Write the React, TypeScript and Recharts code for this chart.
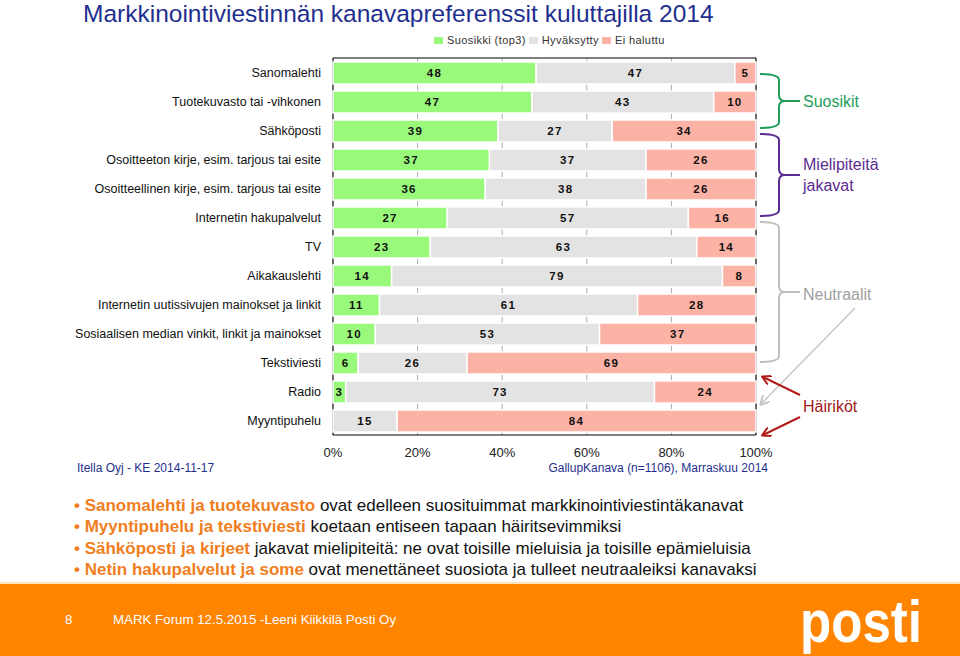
import { BarChart, Bar, XAxis, YAxis, CartesianGrid, LabelList, ReferenceArea } from 'recharts';

const categories = [
    'Sanomalehti',
    'Tuotekuvasto tai -vihkonen',
    'Sähköposti',
    'Osoitteeton kirje, esim. tarjous tai esite',
    'Osoitteellinen kirje, esim. tarjous tai esite',
    'Internetin hakupalvelut',
    'TV',
    'Aikakauslehti',
    'Internetin uutissivujen mainokset ja linkit',
    'Sosiaalisen median vinkit, linkit ja mainokset',
    'Tekstiviesti',
    'Radio',
    'Myyntipuhelu',
];
const suosikki = [48, 47, 39, 37, 36, 27, 23, 14, 11, 10, 6, 3, 0];
const hyvaksytty = [47, 43, 27, 37, 38, 57, 63, 79, 61, 53, 26, 73, 15];
const eiHaluttu = [5, 10, 34, 26, 26, 16, 14, 8, 28, 37, 69, 24, 84];
const xTicks = [0, 0.2, 0.4, 0.6, 0.8, 1];

const series = [
    { key: 'suosikki', name: 'Suosikki (top3)', color: '#99F97A' },
    { key: 'hyvaksytty', name: 'Hyväksytty', color: '#E3E3E3' },
    { key: 'eiHaluttu', name: 'Ei haluttu', color: '#FCB2A5' },
];

const bullets = [
    ['Sanomalehti ja tuotekuvasto', ' ovat edelleen suosituimmat markkinointiviestintäkanavat'],
    ['Myyntipuhelu ja tekstiviesti', ' koetaan entiseen tapaan häiritsevimmiksi'],
    ['Sähköposti ja kirjeet', ' jakavat mielipiteitä: ne ovat toisille mieluisia ja toisille epämieluisia'],
    ['Netin hakupalvelut ja some', ' ovat menettäneet suosiota ja tulleet neutraaleiksi kanavaksi'],
];

const data = categories.map((name, i) => ({
    name,
    suosikki: suosikki[i],
    hyvaksytty: hyvaksytty[i],
    eiHaluttu: eiHaluttu[i],
}));

const FONT = '"Liberation Sans", Arial, sans-serif';
const BLUE = '#1F2F8F';

// curly brace: opens to the left, tip to the right
function brace(x0: number, xv: number, tip: number, top: number, bottom: number) {
    const mid = (top + bottom) / 2;
    const r = 6;
    return `M${x0} ${top} Q${xv} ${top} ${xv} ${top + r} L${xv} ${mid - r} Q${xv} ${mid} ${xv + r} ${mid} L${tip} ${mid} M${xv + r} ${mid} Q${xv} ${mid} ${xv} ${mid + r} L${xv} ${bottom - r} Q${xv} ${bottom} ${x0} ${bottom}`;
}

export default function App() {
    return (
        <div style={{ position: 'absolute', left: 0, top: 0, width: 960, height: 656, background: '#fff', fontFamily: FONT, overflow: 'hidden' }}>
            <div style={{ position: 'absolute', left: 83, top: 0, fontSize: 24.5, lineHeight: '28px', color: BLUE, whiteSpace: 'nowrap' }}>
                Markkinointiviestinnän kanavapreferenssit kuluttajilla 2014
            </div>

            <div style={{ position: 'absolute', left: 434, top: 34, display: 'flex', alignItems: 'center', fontSize: 11, color: '#333', letterSpacing: 0.4 }}>
                {series.map((s) => (
                    <div key={s.key} style={{ display: 'flex', alignItems: 'center', marginRight: 3 }}>
                        <span style={{ width: 9, height: 7, background: s.color, display: 'inline-block', marginRight: 4 }} />
                        {s.name}
                    </div>
                ))}
            </div>

            <div style={{ position: 'absolute', left: 0, top: 0 }}>
                <BarChart
                    width={960}
                    height={480}
                    data={data}
                    layout="vertical"
                    stackOffset="expand"
                    barSize={22}
                    margin={{ top: 58, right: 204, bottom: 15, left: 0 }}
                >
                    <CartesianGrid vertical horizontal={false} stroke="#ADADAD" />
                    <XAxis
                        type="number"
                        domain={[0, 1]}
                        ticks={xTicks}
                        tickFormatter={(v: number) => `${Math.round(v * 100)}%`}
                        tickLine={false}
                        axisLine={false}
                        tickMargin={7}
                        height={30}
                        tick={{ fontSize: 13, fill: '#222', fontFamily: FONT }}
                    />
                    <YAxis
                        type="category"
                        dataKey="name"
                        width={333}
                        tickLine={false}
                        axisLine={false}
                        tickMargin={6}
                        interval={0}
                        tick={{ fontSize: 12.5, fill: '#111', fontFamily: FONT }}
                    />
                    {series.map((s) => (
                        <Bar key={s.key} dataKey={s.key} name={s.name} stackId="a" fill={s.color} stroke="#fff" strokeWidth={1.5} isAnimationActive={false}>
                            <LabelList
                                dataKey={s.key}
                                position="center"
                                formatter={(v: any) => (v ? v : '')}
                                style={{ fontSize: 11.5, fontWeight: 'bold', fill: '#111', letterSpacing: 1.3, fontFamily: FONT }}
                            />
                        </Bar>
                    ))}
                    <ReferenceArea x1={0} x2={1} fill="none" stroke="#000" strokeWidth={1} />
                </BarChart>
            </div>

            <div style={{ position: 'absolute', left: 77, top: 461, fontSize: 12, color: BLUE }}>Itella Oyj - KE 2014-11-17</div>
            <div style={{ position: 'absolute', right: 192, top: 461, fontSize: 12, color: BLUE }}>
                GallupKanava (n=1106), Marraskuu 2014
            </div>

            <svg width={960} height={656} style={{ position: 'absolute', left: 0, top: 0, pointerEvents: 'none' }}>
                <defs>
                    <marker id="ahRed" markerWidth="10" markerHeight="10" refX="8" refY="5" orient="auto" markerUnits="userSpaceOnUse">
                        <path d="M0 0 L9 5 L0 10" fill="none" stroke="#B01C1C" strokeWidth={2} />
                    </marker>
                    <marker id="ahGrey" markerWidth="10" markerHeight="10" refX="8" refY="5" orient="auto" markerUnits="userSpaceOnUse">
                        <path d="M0 0 L9 5 L0 10" fill="none" stroke="#C4C4C4" strokeWidth={2} />
                    </marker>
                </defs>
                <path d={brace(760, 779, 800, 74, 128)} fill="none" stroke="#1E9E5A" strokeWidth={2} />
                <path d={brace(760, 779, 800, 134, 216)} fill="none" stroke="#5B2C91" strokeWidth={2} />
                <path d={brace(760, 779, 800, 222, 362)} fill="none" stroke="#C0C0C0" strokeWidth={2} />
                <text x={803} y={107} fontSize={16} fill="#1E9E5A" fontFamily={FONT}>Suosikit</text>
                <text x={803} y={170} fontSize={16} fill="#5B2C91" fontFamily={FONT}>Mielipiteitä</text>
                <text x={803} y={191} fontSize={16} fill="#5B2C91" fontFamily={FONT}>jakavat</text>
                <text x={803} y={300} fontSize={16} fill="#A0A0A0" fontFamily={FONT}>Neutraalit</text>
                <text x={803} y={412} fontSize={16} fill="#A01818" fontFamily={FONT}>Häiriköt</text>
                <line x1={855} y1={308} x2={761} y2={404} stroke="#C4C4C4" strokeWidth={1.5} markerEnd="url(#ahGrey)" />
                <line x1={800} y1={395} x2={763} y2={377} stroke="#B01C1C" strokeWidth={2} markerEnd="url(#ahRed)" />
                <line x1={800} y1={417} x2={763} y2={435} stroke="#B01C1C" strokeWidth={2} markerEnd="url(#ahRed)" />
            </svg>

            {bullets.map(([hi, rest], i) => (
                <div key={i} style={{ position: 'absolute', left: 74, top: 495 + i * 21.3, fontSize: 17, lineHeight: '21px', color: '#111', whiteSpace: 'nowrap' }}>
                    <span style={{ color: '#F07E1E', fontWeight: 'bold' }}>•&nbsp;{hi}</span>
                    {rest}
                </div>
            ))}

            <div style={{ position: 'absolute', left: 0, top: 582, width: 960, height: 2, background: '#FFE3BF' }} />
            <div style={{ position: 'absolute', left: 0, top: 584, width: 960, height: 72, background: '#FF8400' }}>
                <div style={{ position: 'absolute', left: 65, top: 28, fontSize: 13.3, color: '#fff' }}>8</div>
                <div style={{ position: 'absolute', left: 113, top: 28, fontSize: 13.3, color: '#fff' }}>MARK Forum 12.5.2015 -Leeni Kiikkilä Posti Oy</div>
                <svg width={160} height={72} style={{ position: 'absolute', left: 790, top: 0 }}>
                    <text x={10} y={58} fontSize={60} fontWeight="bold" fill="#fff" fontFamily={FONT} textLength={122} lengthAdjust="spacingAndGlyphs">posti</text>
                </svg>
            </div>
        </div>
    );
}
